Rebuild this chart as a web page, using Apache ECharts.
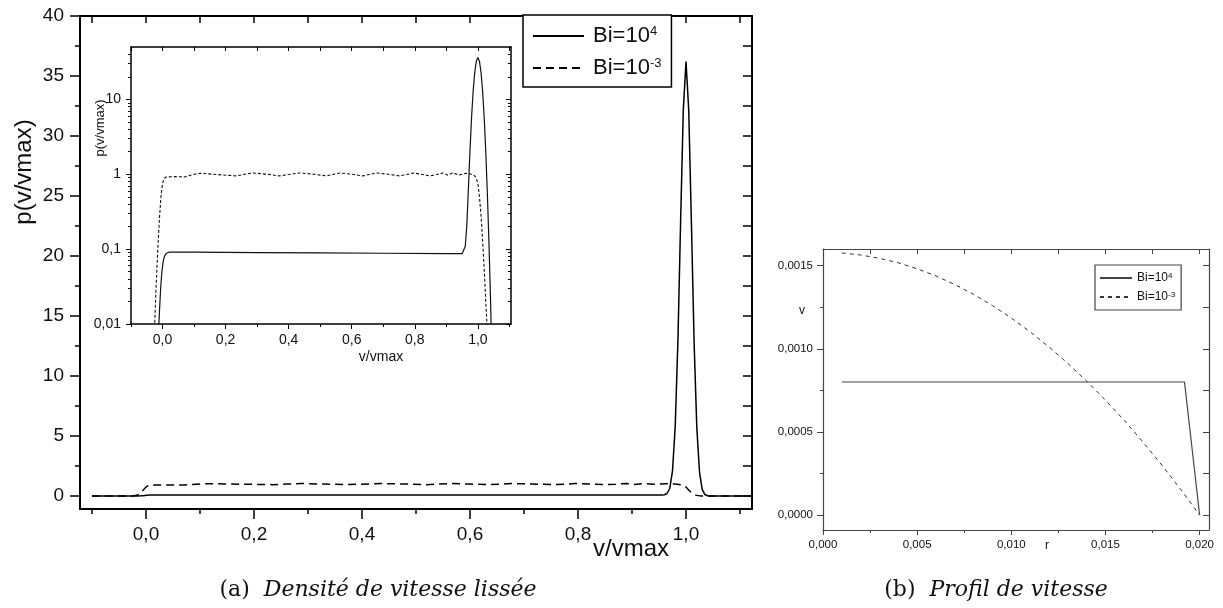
<!DOCTYPE html>
<html><head><meta charset="utf-8">
<script src="https://cdn.jsdelivr.net/npm/echarts@6/dist/echarts.min.js"></script>
<style>html,body{margin:0;padding:0;background:#fff}#c{width:1223px;height:608px}</style>
</head><body><div id="c"></div>
<script>
// ---- (a) smoothed velocity density: v/vmax and p(v/vmax)
const vxBi4 = [-0.1, -0.03, -0.02, -0.014, -0.01, -0.006, -0.002, 0.002, 0.006, 0.012, 0.02, 0.1, 0.3, 0.5, 0.7, 0.9, 0.95, 0.955, 0.96, 0.965, 0.97, 0.975, 0.98, 0.985, 0.99, 0.995, 1.0, 1.005, 1.01, 1.015, 1.02, 1.025, 1.03, 1.035, 1.04, 1.045, 1.05, 1.122];
const pBi4  = [0.0001, 0.0001, 0.001, 0.006, 0.014, 0.03, 0.05, 0.068, 0.08, 0.088, 0.091, 0.091, 0.09, 0.089, 0.088, 0.087, 0.087, 0.09, 0.109, 0.21, 0.65, 2.1, 5.8, 12.9, 22.9, 32.2, 36.2, 32.2, 22.8, 12.8, 5.7, 2.0, 0.56, 0.125, 0.022, 0.003, 0.0001, 0.0001];
const vxBi3 = [-0.1, -0.04, -0.03, -0.025, -0.02, -0.015, -0.01, -0.005, 0.0, 0.005, 0.012, 0.04, 0.07, 0.1, 0.12, 0.16, 0.2, 0.235, 0.26, 0.287, 0.33, 0.37, 0.4, 0.435, 0.48, 0.52, 0.54, 0.562, 0.6, 0.636, 0.655, 0.678, 0.715, 0.752, 0.775, 0.795, 0.82, 0.848, 0.87, 0.89, 0.905, 0.92, 0.94, 0.964, 0.98, 0.99, 0.995, 1.0, 1.005, 1.01, 1.015, 1.02, 1.025, 1.03, 1.035, 1.045, 1.122];
const pBi3  = [0.0001, 0.0001, 0.003, 0.01, 0.035, 0.1, 0.25, 0.5, 0.75, 0.88, 0.92, 0.93, 0.92, 1.0, 1.03, 1.0, 0.97, 0.95, 1.0, 1.04, 1.0, 0.95, 0.99, 1.04, 1.0, 0.95, 0.99, 1.04, 1.0, 0.95, 0.99, 1.04, 1.0, 0.95, 0.99, 1.04, 1.0, 0.95, 0.99, 1.04, 0.97, 1.04, 0.98, 1.03, 1.0, 0.95, 0.88, 0.75, 0.5, 0.28, 0.13, 0.055, 0.02, 0.008, 0.003, 0.0001, 0.0001];
// ---- (b) velocity profile: r and v
const rBi4 = [0.001, 0.0192, 0.020];
const vBi4 = [0.0008, 0.0008, 0.0];
const rBi3 = [0.001, 0.002, 0.003, 0.004, 0.005, 0.006, 0.007, 0.008, 0.009, 0.010, 0.011, 0.012, 0.013, 0.014, 0.015, 0.016, 0.017, 0.018, 0.019, 0.020];
const vBi3 = [0.001576, 0.001564, 0.001544, 0.001517, 0.001481, 0.001438, 0.001386, 0.001327, 0.00126, 0.001185, 0.001102, 0.001011, 0.000912, 0.000806, 0.000691, 0.000569, 0.000438, 0.0003, 0.000154, 0.0];
// ---- tick values
const mainXLabels = [0, 0.2, 0.4, 0.6, 0.8, 1.0];
const mainXMinor = [-0.1, 0.1, 0.3, 0.5, 0.7, 0.9, 1.1];
const mainXAll = [-0.1, 0, 0.1, 0.2, 0.3, 0.4, 0.5, 0.6, 0.7, 0.8, 0.9, 1.0, 1.1];
const mainYLabels = [0, 5, 10, 15, 20, 25, 30, 35, 40];
const mainYMinor = [2.5, 7.5, 12.5, 17.5, 22.5, 27.5, 32.5, 37.5];
const mainYAll = [0, 2.5, 5, 7.5, 10, 12.5, 15, 17.5, 20, 22.5, 25, 27.5, 30, 32.5, 35, 37.5, 40];
const insYLabels = [0.01, 0.1, 1, 10];
const insYMinor = [0.02, 0.03, 0.04, 0.05, 0.06, 0.07, 0.08, 0.09, 0.2, 0.3, 0.4, 0.5, 0.6, 0.7, 0.8, 0.9, 2, 3, 4, 5, 6, 7, 8, 9, 20, 30, 40];
const rXLabels = [0, 0.005, 0.01, 0.015, 0.02];
const rXMinor = [0.0025, 0.0075, 0.0125, 0.0175];
const rXAll = [0, 0.0025, 0.005, 0.0075, 0.01, 0.0125, 0.015, 0.0175, 0.02];
const rYLabels = [0, 0.0005, 0.001, 0.0015];
const rYMinor = [0.00025, 0.00075, 0.00125];
const rYAll = [0, 0.00025, 0.0005, 0.00075, 0.001, 0.00125, 0.0015];

const zip = (a, b) => a.map((x, i) => [x, b[i]]);
const comma = (v, d) => (d == null ? String(Number(v.toPrecision(6))) : v.toFixed(d)).replace('.', ',');
const FONT = 'Liberation Sans';

function axis(grid, pos, min, max, o) {
  return {
    type: o.type || 'value', gridIndex: grid, position: pos, min: min, max: max, logBase: 10,
    splitLine: { show: false }, minorTick: { show: false },
    axisLine: { show: !!o.line, onZero: false, lineStyle: { color: o.color || '#000', width: o.lw || 1 } },
    axisTick: { show: true, inside: !!o.inside, length: o.len, customValues: o.ticks,
                lineStyle: { color: o.color || '#000', width: o.tw || 1 } },
    axisLabel: o.labels ? { show: true, customValues: o.labels, formatter: o.fmt, margin: o.margin,
                fontSize: o.fs, color: '#111', fontFamily: FONT } : { show: false }
  };
}

const XMIN = -0.1222, XMAX = 1.1222, YMIN = -1.08, YMAX = 40;
const IXMIN = -0.1, IXMAX = 1.105, IYMIN = 0.01, IYMAX = 50;
const RXMIN = 0, RXMAX = 0.0205, RYMIN = -0.00009, RYMAX = 0.0016;

const xAxis = [
  axis(0, 'bottom', XMIN, XMAX, { line: true, lw: 2, tw: 1.5, len: 10, ticks: mainXLabels, labels: mainXLabels, fmt: v => comma(v, 1), margin: 16, fs: 19 }),
  axis(0, 'bottom', XMIN, XMAX, { len: 5, tw: 1.5, ticks: mainXMinor }),
  axis(0, 'top', XMIN, XMAX, { line: true, lw: 2, tw: 1.5, len: 7, inside: true, ticks: mainXAll }),
  axis(1, 'bottom', IXMIN, IXMAX, { line: true, lw: 1.5, len: 5, ticks: mainXLabels, labels: mainXLabels, fmt: v => comma(v, 1), margin: 9, fs: 14 }),
  axis(1, 'bottom', IXMIN, IXMAX, { len: 3, ticks: mainXMinor }),
  axis(1, 'top', IXMIN, IXMAX, { line: true, lw: 1.5, len: 4, inside: true, ticks: mainXAll }),
  axis(2, 'bottom', RXMIN, RXMAX, { line: true, lw: 1.2, color: '#444', len: 5, ticks: rXLabels, labels: rXLabels, fmt: v => comma(v, 3), margin: 9, fs: 11.5 }),
  axis(2, 'bottom', RXMIN, RXMAX, { color: '#444', len: 3, ticks: rXMinor }),
  axis(2, 'top', RXMIN, RXMAX, { line: true, lw: 1.2, color: '#444', len: 5, inside: true, ticks: rXAll })
];
const yAxis = [
  axis(0, 'left', YMIN, YMAX, { line: true, lw: 2, tw: 1.5, len: 10, ticks: mainYLabels, labels: mainYLabels, fmt: v => String(v), margin: 16, fs: 19 }),
  axis(0, 'left', YMIN, YMAX, { len: 5, tw: 1.5, ticks: mainYMinor }),
  axis(0, 'right', YMIN, YMAX, { line: true, lw: 2, tw: 1.5, len: 9, inside: true, ticks: mainYAll }),
  axis(1, 'left', IYMIN, IYMAX, { type: 'log', line: true, lw: 1.5, len: 5, ticks: insYLabels, labels: insYLabels, fmt: v => comma(v), margin: 10, fs: 14 }),
  axis(1, 'left', IYMIN, IYMAX, { type: 'log', len: 3, ticks: insYMinor }),
  axis(1, 'right', IYMIN, IYMAX, { type: 'log', line: true, lw: 1.5, len: 5, inside: true, ticks: insYLabels }),
  axis(1, 'right', IYMIN, IYMAX, { type: 'log', len: 3, inside: true, ticks: insYMinor }),
  axis(2, 'left', RYMIN, RYMAX, { line: true, lw: 1.2, color: '#444', len: 6, ticks: rYLabels, labels: rYLabels, fmt: v => comma(v, 4), margin: 10, fs: 11.5 }),
  axis(2, 'left', RYMIN, RYMAX, { color: '#444', len: 3, ticks: rYMinor }),
  axis(2, 'right', RYMIN, RYMAX, { line: true, lw: 1.2, color: '#444', len: 6, inside: true, ticks: rYAll })
];

function line(name, xi, yi, data, color, width, dash) {
  return { type: 'line', name: name, xAxisIndex: xi, yAxisIndex: yi, data: data, symbol: 'none', showSymbol: false,
           smooth: false, clip: true, z: 3,
           lineStyle: { color: color, width: width, type: dash || 'solid' }, itemStyle: { color: color } };
}

const legendRich = (big, small) => ({
  b: { fontSize: big, fontFamily: FONT, color: '#111' },
  s: { fontSize: small, fontFamily: FONT, color: '#111', verticalAlign: 'top' }
});
const legendFmt = n => n.endsWith('4') ? '{b|Bi=10}{s|4}' : '{b|Bi=10}{s|-3}';
const CAP = {
  n: { fontFamily: 'DejaVu Serif', fontSize: 22, fill: '#111' },
  sp: { fontFamily: 'DejaVu Serif', fontSize: 22, width: 14 },
  i: { fontFamily: 'DejaVu Serif', fontStyle: 'italic', fontSize: 22, fill: '#111' }
};

const option = {
  animation: false,
  backgroundColor: '#fff',
  grid: [
    { left: 80, top: 16, width: 672, height: 493, outerBoundsMode: 'none' },
    { left: 131, top: 47, width: 380, height: 277, show: true, backgroundColor: '#fff', borderWidth: 0, outerBoundsMode: 'none' },
    { left: 823, top: 249, width: 386, height: 281, outerBoundsMode: 'none' }
  ],
  xAxis: xAxis,
  yAxis: yAxis,
  legend: [
    { data: ['a4', 'a3'], orient: 'vertical', left: 523, top: 15, itemWidth: 51, itemHeight: 12, itemGap: 10,
      padding: [10, 10, 8, 9], borderColor: '#000', borderWidth: 1.5, backgroundColor: '#fff', selectedMode: false,
      itemStyle: { opacity: 0 },
      formatter: legendFmt, textStyle: { rich: legendRich(22, 13), padding: [0, 0, 0, 4] } },
    { data: ['b4', 'b3'], orient: 'vertical', left: 1095, top: 265, itemWidth: 32, itemHeight: 8, itemGap: 7,
      padding: [7, 6, 7, 4], borderColor: '#444', borderWidth: 1.2, backgroundColor: '#fff', selectedMode: false,
      itemStyle: { opacity: 0 },
      formatter: legendFmt, textStyle: { rich: legendRich(12, 8), padding: [0, 0, 0, 0] } }
  ],
  series: [
    line('a4', 0, 0, zip(vxBi4, pBi4), '#000', 1.5),
    line('a3', 0, 0, zip(vxBi3, pBi3), '#000', 1.5, [8, 5]),
    line('i4', 3, 3, zip(vxBi4, pBi4), '#111', 1.2),
    line('i3', 3, 3, zip(vxBi3, pBi3), '#111', 1.1, [3, 2]),
    line('b4', 6, 7, zip(rBi4, vBi4), '#444', 1.2),
    line('b3', 6, 7, zip(rBi3, vBi3), '#333', 1, [4, 4])
  ],
  graphic: [
    { type: 'text', x: 24, y: 172, rotation: Math.PI / 2, style: { text: 'p(v/vmax)', font: '24px "Liberation Sans"', fill: '#111', align: 'center', verticalAlign: 'middle' } },
    { type: 'text', x: 631, y: 549, style: { text: 'v/vmax', font: '24px "Liberation Sans"', fill: '#111', align: 'center', verticalAlign: 'middle' } },
    { type: 'text', x: 100, y: 128, z: 10, rotation: Math.PI / 2, style: { text: 'p(v/vmax)', font: '13px "Liberation Sans"', fill: '#111', align: 'center', verticalAlign: 'middle' } },
    { type: 'text', x: 381, y: 357, z: 10, style: { text: 'v/vmax', font: '14px "Liberation Sans"', fill: '#111', align: 'center', verticalAlign: 'middle' } },
    { type: 'text', x: 802, y: 311, style: { text: 'v', font: '12px "Liberation Sans"', fill: '#111', align: 'center', verticalAlign: 'middle' } },
    { type: 'text', x: 1047, y: 546, style: { text: 'r', font: '12px "Liberation Sans"', fill: '#111', align: 'center', verticalAlign: 'middle' } },
    { type: 'text', x: 378, y: 590, style: { text: '{n|(a)}{sp| }{i|Densité de vitesse lissée}', align: 'center', verticalAlign: 'middle', rich: CAP } },
    { type: 'text', x: 996, y: 590, style: { text: '{n|(b)}{sp| }{i|Profil de vitesse}', align: 'center', verticalAlign: 'middle', rich: CAP } }
  ]
};
const chart = echarts.init(document.getElementById('c'), null, { renderer: 'canvas' });
chart.setOption(option);
</script>
</body></html>
